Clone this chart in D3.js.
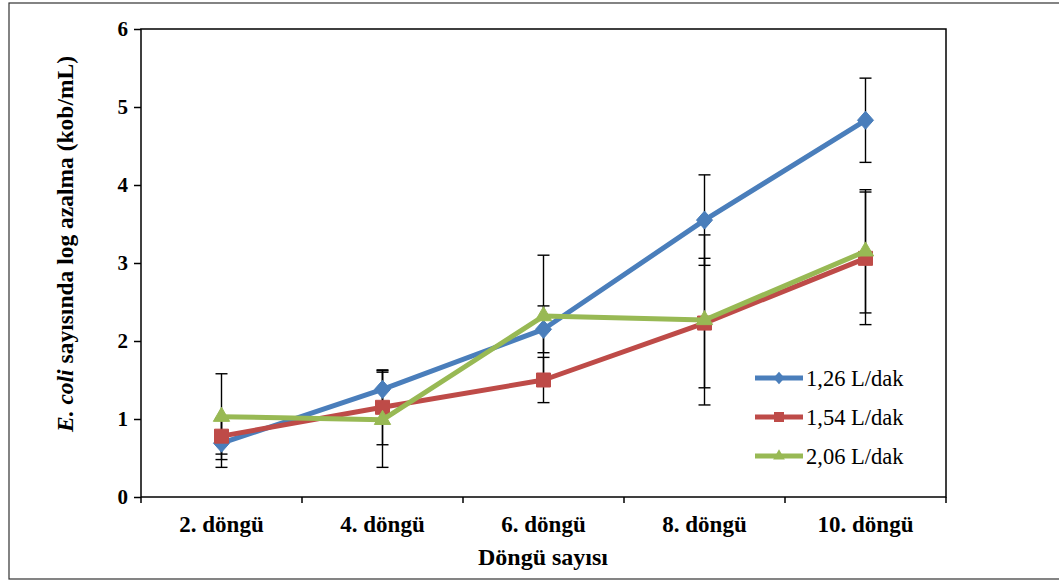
<!DOCTYPE html>
<html>
<head>
<meta charset="utf-8">
<script src="https://cdn.jsdelivr.net/npm/d3@7"></script>
<style>
  html, body { margin: 0; padding: 0; background: #fff; }
  svg { display: block; }
  text { font-family: "Liberation Serif", "Times New Roman", serif; fill: #000; }
</style>
</head>
<body>
<svg id="chart" width="1059" height="582"></svg>
<script>
// ---- data ----
const categories = ["2. döngü", "4. döngü", "6. döngü", "8. döngü", "10. döngü"];
const seriesNames = ["1,26 L/dak", "1,54 L/dak", "2,06 L/dak"];
const values126 = [0.69, 1.38, 2.15, 3.55, 4.83];
const errors126 = [0.31, 0.24, 0.30, 0.58, 0.54];
const values154 = [0.78, 1.15, 1.50, 2.23, 3.06];
const errors154 = [0.23, 0.48, 0.29, 0.83, 0.85];
const values206 = [1.03, 0.99, 2.32, 2.27, 3.15];
const errors206 = [0.55, 0.61, 0.78, 1.09, 0.79];
const yTicks = [0, 1, 2, 3, 4, 5, 6];
const xTitle = "Döngü sayısı";

const colors = ["#4A7EBB", "#BE4B48", "#98B954"];
// rhombus slightly taller than wide (Excel-style diamond)
const rhombus = {
  draw(ctx, size) {
    const h = Math.sqrt(size / 2) * 1.06, w = Math.sqrt(size / 2) * 0.94;
    ctx.moveTo(0, -h); ctx.lineTo(w, 0); ctx.lineTo(0, h); ctx.lineTo(-w, 0); ctx.closePath();
  }
};
const shapes = [rhombus, d3.symbolSquare, d3.symbolTriangle];
const shapeSizes = [145, 196, 115];
const legendSizes = [70, 100, 60];

const series = [
  { name: seriesNames[0], values: values126, errors: errors126 },
  { name: seriesNames[1], values: values154, errors: errors154 },
  { name: seriesNames[2], values: values206, errors: errors206 }
];

const svg = d3.select("#chart");
const plot = { left: 141, right: 946, top: 29, bottom: 497 };

// outer frame
svg.append("rect").attr("x", 9).attr("y", 3).attr("width", 1070).attr("height", 576)
  .attr("fill", "#fff").attr("stroke", "#333").attr("stroke-width", 1.2);

const x = d3.scaleBand().domain(categories).range([plot.left, plot.right]);
const y = d3.scaleLinear().domain([0, 6]).range([plot.bottom, plot.top]);

// plot border
svg.append("rect").attr("x", plot.left).attr("y", plot.top)
  .attr("width", plot.right - plot.left).attr("height", plot.bottom - plot.top)
  .attr("fill", "none").attr("stroke", "#000").attr("stroke-width", 1.5);

// y axis
const yAxis = svg.append("g").attr("transform", `translate(${plot.left},0)`)
  .call(d3.axisLeft(y).tickValues(yTicks).tickSize(7).tickPadding(6).tickFormat(d3.format("d")));
yAxis.select(".domain").remove();
yAxis.selectAll(".tick line").attr("stroke", "#000").attr("stroke-width", 1.5);
yAxis.selectAll(".tick text").style("font-family", "Liberation Serif").style("font-weight", "bold")
  .style("font-size", "21px").attr("fill", "#000");

// x axis: ticks at band boundaries
const bounds = categories.map(c => x(c)).concat([x.range()[1]]);
svg.append("g").selectAll("line").data(bounds).join("line")
  .attr("x1", d => d).attr("x2", d => d)
  .attr("y1", plot.bottom).attr("y2", plot.bottom + 6)
  .attr("stroke", "#000").attr("stroke-width", 1.5);
const xAxis = svg.append("g").attr("transform", `translate(0,${plot.bottom})`)
  .call(d3.axisBottom(x).tickSize(0).tickPadding(19));
xAxis.select(".domain").remove();
xAxis.selectAll(".tick text").style("font-family", "Liberation Serif").style("font-weight", "bold")
  .style("font-size", "23px").attr("fill", "#000");

// axis titles
svg.append("text").attr("x", 543).attr("y", 565)
  .attr("text-anchor", "middle").style("font-weight", "bold").style("font-size", "24px")
  .text(xTitle);

const yt = svg.append("text").attr("transform", "translate(73,244) rotate(-90)")
  .attr("text-anchor", "middle").style("font-weight", "bold").style("font-size", "23.5px");
yt.append("tspan").style("font-style", "italic").text("E. coli");
yt.append("tspan").text(" sayısında log azalma (kob/mL)");

// error bars
const cx = c => x(c) + x.bandwidth() / 2;
const capW = 6;
series.forEach(s => {
  const g = svg.append("g");
  categories.forEach((c, i) => {
    const v = s.values[i], e = s.errors[i];
    const px = cx(c);
    g.append("line").attr("x1", px).attr("x2", px).attr("y1", y(v + e)).attr("y2", y(v - e))
      .attr("stroke", "#000").attr("stroke-width", 1.4);
    [v + e, v - e].forEach(t => {
      g.append("line").attr("x1", px - capW).attr("x2", px + capW).attr("y1", y(t)).attr("y2", y(t))
        .attr("stroke", "#000").attr("stroke-width", 1.4);
    });
  });
});

// lines and markers
const line = d3.line().x((d, i) => cx(categories[i])).y(d => y(d));
series.forEach((s, k) => {
  svg.append("path").datum(s.values).attr("d", line)
    .attr("fill", "none").attr("stroke", colors[k]).attr("stroke-width", 5)
    .attr("stroke-linejoin", "round");
  svg.append("g").selectAll("path").data(s.values).join("path")
    .attr("transform", (d, i) => `translate(${cx(categories[i])},${y(d)})`)
    .attr("d", d3.symbol().type(shapes[k]).size(shapeSizes[k]))
    .attr("fill", colors[k]).attr("stroke", colors[k]).attr("stroke-width", 1);
});

// legend
const legend = svg.append("g");
const legY = [378, 417, 456];
series.forEach((s, k) => {
  const g = legend.append("g").attr("transform", `translate(0,${legY[k]})`);
  g.append("line").attr("x1", 755).attr("x2", 803).attr("y1", 0).attr("y2", 0)
    .attr("stroke", colors[k]).attr("stroke-width", 5);
  g.append("path").attr("transform", "translate(779,0)")
    .attr("d", d3.symbol().type(shapes[k]).size(legendSizes[k])).attr("fill", colors[k]);
  g.append("text").attr("x", 806).attr("y", 8).style("font-size", "22.5px").text(s.name);
});
</script>
</body>
</html>
